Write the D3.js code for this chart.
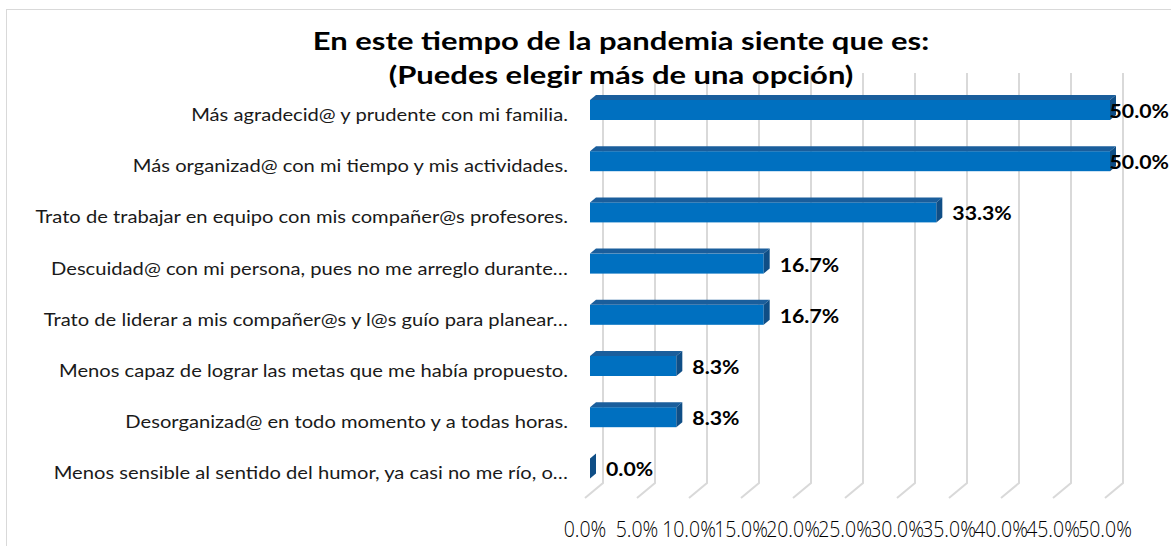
<!DOCTYPE html>
<html><head><meta charset="utf-8">
<script src="https://cdn.jsdelivr.net/npm/d3@7"></script>
<style>body{margin:0;background:#fff}svg{display:block}</style>
</head><body><svg id="c" width="1171" height="546"></svg>
<script>
const titleLines = ["En este tiempo de la pandemia siente que es:", "(Puedes elegir más de una opción)"];
const categories = [
  "Más agradecid@ y prudente con mi familia.",
  "Más organizad@ con mi tiempo y mis actividades.",
  "Trato de trabajar en equipo con mis compañer@s profesores.",
  "Descuidad@ con mi persona, pues no me arreglo durante…",
  "Trato de liderar a mis compañer@s y l@s guío para planear…",
  "Menos capaz de lograr las metas que me había propuesto.",
  "Desorganizad@ en todo momento y a todas horas.",
  "Menos sensible al sentido del humor, ya casi no me río, o…"
];
const values = [0.5, 0.5, 0.333, 0.167, 0.167, 0.083, 0.083, 0.0];
const ticks = [0, 0.05, 0.1, 0.15, 0.2, 0.25, 0.3, 0.35, 0.4, 0.45, 0.5];

const svg = d3.select("#c");
const W = 1171;
const fmt = d3.format(".1%");
const x = d3.scaleLinear().domain([0, 0.5]).range([590, 1110]);
const y = d3.scalePoint().domain(categories).range([110, 468.4]);
const barH = 20, dx = 6, dy = 5;
const backDx = 13, floorDx = -18, floorDy = 15, gridTop = 73, gridBot = 483;

// chart border
svg.append("rect").attr("x", 6.5).attr("y", 9.5).attr("width", 1200).attr("height", 600)
  .attr("fill", "none").attr("stroke", "#d9d9d9").attr("stroke-width", 1);

// gridlines (back wall + floor)
const g = svg.append("g");
ticks.forEach(t => {
  const xb = x(t) + backDx;
  g.append("path").attr("d", `M${xb},${gridTop}V${gridBot}L${xb + floorDx},${gridBot + floorDy}`)
    .attr("fill", "none").attr("stroke", "#d9d9d9").attr("stroke-width", 2);
});

// tick labels
svg.append("g").selectAll("text").data(ticks).join("text")
  .attr("transform", d => `translate(${x(d) + backDx + floorDx},537) scale(1,1.12)`)
  .attr("text-anchor", "middle")
  .attr("font-family", "Open Sans").attr("font-weight", 300).attr("font-size", 19.5)
  .attr("fill", "#000").text(d => fmt(d));

// bars
const bars = svg.append("g");
categories.forEach((c, i) => {
  const v = values[i];
  const x0 = x(0), x1 = x(v), yt = y(c) - barH / 2, yb = yt + barH;
  if (v > 0) {
    bars.append("rect").attr("x", x0).attr("y", yt).attr("width", x1 - x0).attr("height", barH)
      .attr("fill", "#0070C0");
    bars.append("path").attr("d", `M${x0},${yt}L${x0 + dx},${yt - dy}L${x1 + dx},${yt - dy}L${x1},${yt}Z`)
      .attr("fill", "#1A5E9C");
  }
  bars.append("path").attr("d", `M${x1},${yt}L${x1 + dx},${yt - dy}L${x1 + dx},${yb - dy}L${x1},${yb}Z`)
    .attr("fill", "#0F4E86");
});

// category labels
svg.append("g").selectAll("text").data(categories).join("text")
  .attr("transform", d => `translate(568,${y(d) + 11}) scale(1.12,1)`)
  .attr("text-anchor", "end")
  .attr("font-family", "Lato").attr("font-size", 18)
  .attr("fill", "#1a1a1a").text(d => d);

// value labels
svg.append("g").selectAll("text").data(values).join("text")
  .attr("font-family", "Lato").attr("font-weight", "bold").attr("font-size", 19)
  .attr("fill", "#000").text(d => fmt(d))
  .each(function (d, i) {
    const s = 1.12;
    const w = this.getComputedTextLength() * s;
    const xx = Math.min(x(d) + 16, W - 2 - w);
    this.setAttribute("transform", `translate(${xx},${y(categories[i]) + 8}) scale(${s},1)`);
  });

// title
svg.append("g").selectAll("text").data(titleLines).join("text")
  .attr("transform", (d, i) => `translate(621,${50 + i * 34}) scale(1.24,1)`)
  .attr("text-anchor", "middle")
  .attr("font-family", "Lato").attr("font-weight", "bold").attr("font-size", 25)
  .attr("fill", "#000").text(d => d);
</script></body></html>
